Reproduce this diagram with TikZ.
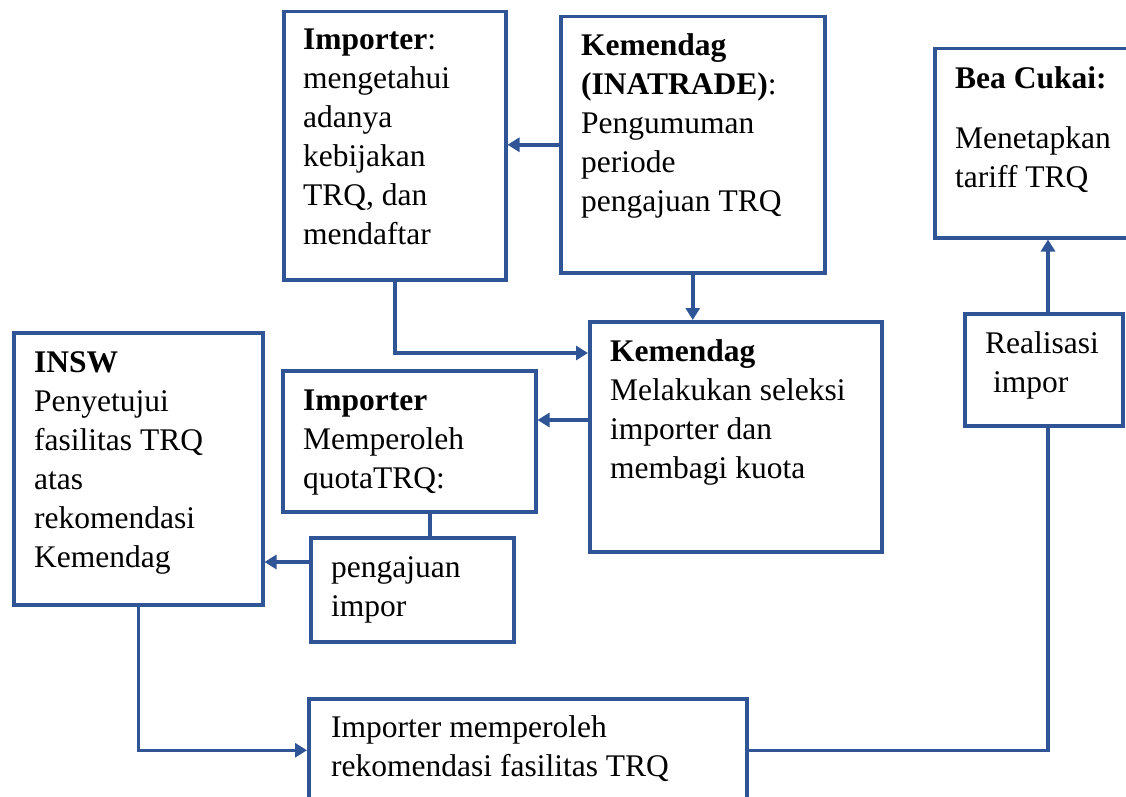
\documentclass[tikz,border=0pt]{standalone}
\usepackage{fontspec}
\setmainfont{Liberation Serif}
\usetikzlibrary{arrows.meta,calc}
\definecolor{bluebox}{HTML}{2F5597}
\tikzset{
  box/.style={draw=bluebox, line width=3.5pt, rectangle, inner sep=0pt, anchor=north west},
  txt/.style={anchor=north west, inner sep=0pt, align=left, text=black, font=\fontsize{31.5}{39}\selectfont},
  conn/.style={draw=bluebox, line width=3.5pt},
  arr/.style={conn, -{Triangle[length=12pt,width=14pt]}},
}
\begin{document}
\begin{tikzpicture}[x=1pt,y=-1pt]
\useasboundingbox (0,0) rectangle (1126,797);
% boxes
\node[box, minimum width=222pt, minimum height=268pt] (a) at (282,10) {};
\node[box, minimum width=264pt, minimum height=256pt] (b) at (559,15) {};
\node[box, minimum width=210pt, minimum height=189pt] (c) at (933,47) {};
\node[box, minimum width=249pt, minimum height=272pt] (d) at (12,331) {};
\node[box, minimum width=253pt, minimum height=141pt] (e) at (281,369) {};
\node[box, minimum width=292pt, minimum height=230pt] (f) at (588,320) {};
\node[box, minimum width=158pt, minimum height=112pt] (g) at (963,312) {};
\node[box, minimum width=203pt, minimum height=104pt] (h) at (309,536) {};
\node[box, minimum width=438pt, minimum height=103pt] (i) at (307,697) {};
% texts
\node[txt] (at) at (303,21.7) {\strut\textbf{Importer}:\\mengetahui\\adanya\\kebijakan\\TRQ, dan\\mendaftar};
\node[txt] (bt) at (581,27.7) {\strut\textbf{Kemendag}\\\textbf{(INATRADE)}:\\Pengumuman\\periode\\pengajuan TRQ};
\node[txt] (ct) at (955,60.7) {\strut\textbf{Bea Cukai:}\\[21pt]Menetapkan\\tariff TRQ};
\node[txt] (dt) at (34,344.7) {\strut\textbf{INSW}\\Penyetujui\\fasilitas TRQ\\atas\\rekomendasi\\Kemendag};
\node[txt] (et) at (303,382.7) {\strut\textbf{Importer}\\Memperoleh\\quotaTRQ:};
\node[txt] (ft) at (610,333.7) {\strut\textbf{Kemendag}\\Melakukan seleksi\\importer dan\\membagi kuota};
\node[txt] (gt) at (985,325.7) {\strut Realisasi\\\hspace*{8pt}impor};
\node[txt] (ht) at (331,549.7) {\strut pengajuan\\impor};
\node[txt] (it) at (331,709.7) {\strut Importer memperoleh\\rekomendasi fasilitas TRQ};
% connectors
\draw[arr] (b.west) -- (a.east |- b.west);
\draw[arr] (b.south) -- (f.north -| b.south);
\draw[arr] (a.south) |- ($(f.north west)+(0,33)$);
\draw[arr] ($(f.north west)+(0,100)$) -- (e.east |- {$(f.north west)+(0,100)$});
\draw[conn] (e.south -| 430,0) -- (h.north -| 430,0);
\draw[arr] ($(h.north west)+(0,26)$) -- (d.east |- {$(h.north west)+(0,26)$});
\draw[arr] (d.south) |- (i.west);
\draw[conn] (i.east) -| (g.south -| 1048,0);
\draw[arr] (g.north -| 1048,0) -- (c.south -| 1048,0);
\end{tikzpicture}
\end{document}
